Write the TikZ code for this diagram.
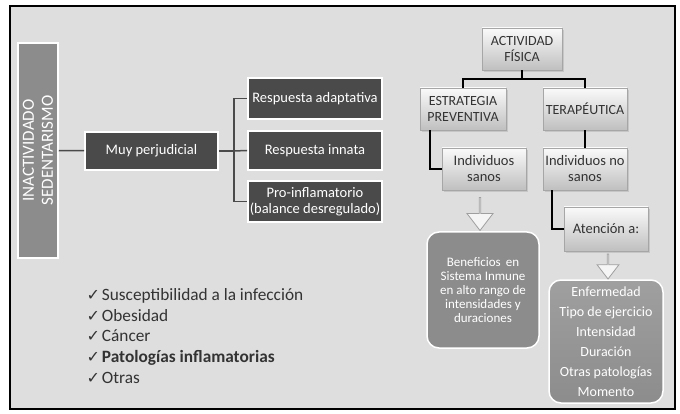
\documentclass[tikz,border=0pt]{standalone}
\usepackage{fontspec}
\setmainfont{Carlito}
\newfontfamily\symfont{DejaVu Sans}
\usetikzlibrary{positioning,shapes.arrows,shadows,calc}
\definecolor{fondo}{HTML}{DEDEDE}
\definecolor{oscuro}{HTML}{4A4A4A}
\definecolor{medio}{HTML}{8C8C8C}
\definecolor{texto}{HTML}{333333}
\newcommand{\marca}{{\symfont\fontsize{16}{16}\selectfont\char"2713}\hspace{2pt}}

\begin{document}
\begin{tikzpicture}[x=1pt, y=-1pt,
    oscurobox/.style={draw=white, line width=1.8, fill=oscuro, text=white,
      align=center, inner sep=1, font=\fontsize{14.5}{16}\selectfont},
    clarobox/.style={draw=gray!70, line width=.6, top color=white!96!gray,
      bottom color=gray!50, text=texto, align=center, inner sep=1,
      minimum width=84, minimum height=42, drop shadow={opacity=.25},
      font=\fontsize{14.5}{16}\selectfont},
    redondo/.style={draw=white, line width=1.5, rounded corners=12, text=white,
      align=center, inner sep=1},
    flecha/.style={single arrow, draw=gray!75, fill=white!92!gray, line width=.8,
      shape border rotate=270, inner sep=0, single arrow tip angle=75},
    liga/.style={draw=oscuro, line width=1.5},
    ligan/.style={draw=black, line width=2}]
  \useasboundingbox (0,0) rectangle (680,414);
  \draw[line width=2.5, fill=fondo] (10,6) rectangle (675,409);

  % lado izquierdo
  \node[draw=white, line width=1.5, fill=medio, minimum width=40, minimum height=215,
    inner sep=0] (sed) at (38,150.5) {};
  \node[rotate=90, text=white, align=center, font=\fontsize{17}{19}\selectfont]
    at (sed.center) {INACTIVIDADO\\SEDENTARISMO};
  \node[oscurobox, minimum width=133, minimum height=38] (muy) at (151.5,151) {Muy perjudicial};
  \node[oscurobox, minimum width=134, minimum height=41] (adap) at (315,98.5) {Respuesta adaptativa};
  \node[oscurobox, minimum width=134, minimum height=39] (inna) at (315,150.5) {Respuesta innata};
  \node[oscurobox, minimum width=134, minimum height=41] (proi) at (315,201.5)
    {Pro-inflamatorio\\(balance desregulado)};
  \draw[liga] (sed) -- (muy);
  \draw[liga] (muy.east) -- ++(15,0) coordinate (br);
  \draw[liga] (adap.west) -| (br) |- (proi.west);
  \draw[liga] (br) -- (inna.west);

  \node[anchor=north west, align=left, text=texto, font=\fontsize{17.3}{20.7}\selectfont]
    (chk) at (83,285) {\marca Susceptibilidad a la infección\\
    \marca Obesidad\\
    \marca Cáncer\\
    \marca\textbf{Patologías inflamatorias}\\
    \marca Otras};

  % lado derecho
  \node[clarobox, minimum width=80, font=\fontsize{14}{16}\selectfont] (act) at (522,49) {ACTIVIDAD\\FÍSICA};
  \node[clarobox, minimum width=86, font=\fontsize{14}{16}\selectfont] (est) at (463,109) {ESTRATEGIA\\PREVENTIVA};
  \node[clarobox, font=\fontsize{14}{16}\selectfont] (ter) at (585,109) {TERAPÉUTICA};
  \node[clarobox] (isan) at (484,169) {Individuos\\sanos};
  \node[clarobox] (inos) at (585,169) {Individuos no\\sanos};
  \node[clarobox, minimum height=44] (aten) at (606,229) {Atención a:};
  \draw[ligan] (act.south) -- ++(0,9) coordinate (ja);
  \draw[ligan] (est.north) |- (ja) -| (ter.north);
  \draw[ligan] ([xshift=10]est.south west) |- (isan.west);
  \draw[ligan] (ter) -- (inos);
  \draw[ligan] ([xshift=9]inos.south west) |- (aten.west);

  \node[redondo, fill=medio, minimum width=112, minimum height=116,
    font=\fontsize{13}{13.8}\selectfont] (ben) at (483,290)
    {Beneficios \,en\\Sistema Inmune\\en alto rango de\\intensidades y\\duraciones};
  \node[redondo, top color=gray!75, bottom color=gray!110!black, draw=white,
    minimum width=114, minimum height=123, font=\fontsize{14}{20}\selectfont]
    (lista) at (606,341.5)
    {Enfermedad\\Tipo de ejercicio\\Intensidad\\Duración\\Otras patologías\\Momento};
  \node[flecha, minimum height=33, minimum width=26, single arrow head extend=6.5]
    (f1) at (480,213.5) {};
  \node[flecha, minimum height=25, minimum width=22, single arrow head extend=5.5]
    (f2) at (608,266) {};
\end{tikzpicture}
\end{document}
